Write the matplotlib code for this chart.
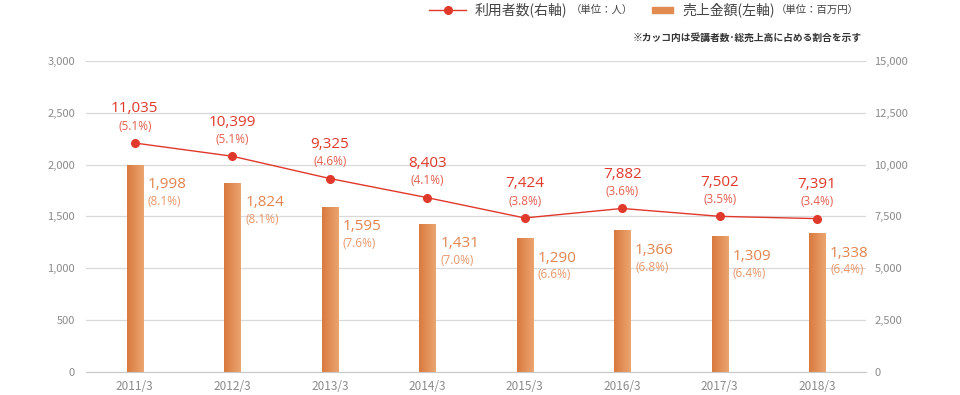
import numpy as np
import matplotlib
matplotlib.use('Agg')
import matplotlib.pyplot as plt
from matplotlib.lines import Line2D
from matplotlib.colors import LinearSegmentedColormap

plt.rcParams['font.family'] = ['Noto Sans CJK JP', 'DejaVu Sans']

# data
years = ['2011/3', '2012/3', '2013/3', '2014/3', '2015/3', '2016/3', '2017/3', '2018/3']
sales = [1998, 1824, 1595, 1431, 1290, 1366, 1309, 1338]          # 売上金額 (百万円, left axis)
sales_pct = [8.1, 8.1, 7.6, 7.0, 6.6, 6.8, 6.4, 6.4]
users = [11035, 10399, 9325, 8403, 7424, 7882, 7502, 7391]        # 利用者数 (人, right axis)
users_pct = [5.1, 5.1, 4.6, 4.1, 3.8, 3.6, 3.5, 3.4]

bar_color = '#E28B50'
line_color = '#E0392B'
bar_text = '#E2854F'
tick_color = '#8a8a8a'
num_font = ['Open Sans', 'Noto Sans CJK JP']

fig = plt.figure(figsize=(9.6, 3.95), dpi=100)
ax = fig.add_axes([0.0896, 0.0582, 0.8124, 0.788])
ax2 = ax.twinx()

x = np.arange(len(years))

# bars on left axis, with a left-to-right gradient
bars = ax.bar(x, sales, width=0.165, color=bar_color, zorder=2)
grad = LinearSegmentedColormap.from_list('bargrad', ['#D97A3F', '#EBA56F'])
for b in bars:
    bx, by = b.get_x(), b.get_y()
    img = ax.imshow(np.linspace(0, 1, 64).reshape(1, -1), cmap=grad, aspect='auto',
                    extent=[bx, bx + b.get_width(), by, by + b.get_height()], zorder=2.1)
    img.set_clip_path(b)
ax.set_ylim(0, 3000)
ax.set_yticks(range(0, 3001, 500))
ax.set_yticklabels([f'{v:,}' for v in range(0, 3001, 500)])
ax.set_xlim(-0.5, len(years) - 0.5)
ax.set_xticks(x)
ax.set_xticklabels(years)
ax.grid(axis='y', color='#d9d9d9', linewidth=0.9, zorder=0)
ax.set_axisbelow(True)

# line on right axis
ax2.plot(x, users, color=line_color, linewidth=1.0, marker='o', markersize=5.5, zorder=3)
ax2.set_ylim(0, 15000)
ax2.set_yticks(range(0, 15001, 2500))
ax2.set_yticklabels([f'{v:,}' for v in range(0, 15001, 2500)])

for a in (ax, ax2):
    for s in a.spines.values():
        s.set_visible(False)
    a.tick_params(length=0, colors=tick_color, labelsize=8)
ax.spines['bottom'].set_visible(True)
ax.spines['bottom'].set_color('#c8c8c8')
ax.tick_params(axis='y', pad=8)
ax2.tick_params(axis='y', pad=6)
ax.tick_params(axis='x', pad=6, labelsize=8.5)

# labels for line
for i, (v, p) in enumerate(zip(users, users_pct)):
    ax2.annotate(f'{v:,}', (i, v), xytext=(0, 24.5), textcoords='offset points',
                 ha='center', va='center', fontsize=11, color=line_color, family=num_font)
    ax2.annotate(f'({p}%)', (i, v), xytext=(0, 12), textcoords='offset points',
                 ha='center', va='center', fontsize=8.5, color='#E35E4E', family=num_font)

# labels for bars
for i, (v, p) in enumerate(zip(sales, sales_pct)):
    ax.annotate(f'{v:,}', (i + 0.09, v), xytext=(3, -14.5), textcoords='offset points',
                ha='left', va='center', fontsize=11, color=bar_text, family=num_font)
    ax.annotate(f'({p}%)', (i + 0.09, v), xytext=(3, -26.5), textcoords='offset points',
                ha='left', va='center', fontsize=8.5, color='#E7976A', family=num_font)

# legend row at top
fig.add_artist(Line2D([429 / 960, 466 / 960], [1 - 10 / 395] * 2, color=line_color, linewidth=1.0))
fig.add_artist(Line2D([447.5 / 960], [1 - 10 / 395], color=line_color, marker='o', markersize=5.5))
fig.text(475 / 960, 1 - 10 / 395, '利用者数(右軸)', fontsize=10, color='#444444', va='center')
fig.text(571 / 960, 1 - 10 / 395, '（単位：人）', fontsize=7.5, color='#444444', va='center')
fig.add_artist(plt.Rectangle((652 / 960, 1 - 13 / 395), 21 / 960, 6 / 395, color=bar_color, transform=fig.transFigure))
fig.text(682 / 960, 1 - 10 / 395, '売上金額(左軸)', fontsize=10, color='#444444', va='center')
fig.text(776 / 960, 1 - 10 / 395, '（単位：百万円）', fontsize=7.5, color='#444444', va='center')
fig.text(862 / 960, 1 - 38 / 395, '※カッコ内は受講者数･総売上高に占める割合を示す', fontsize=7,
         fontweight='bold', color='#333333', ha='right', va='center')

plt.savefig('out.png', dpi=100)
